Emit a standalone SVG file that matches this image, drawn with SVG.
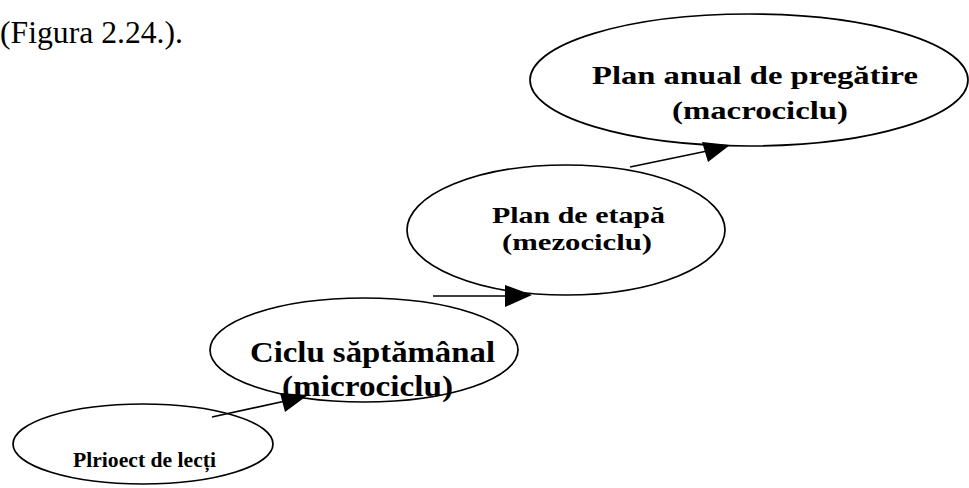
<svg xmlns="http://www.w3.org/2000/svg" width="969" height="488" viewBox="0 0 969 488">
  <style>
    .node ellipse { fill: #ffffff; stroke: #000000; stroke-width: 1.7; }
    .lbl { font-family: "Liberation Serif", "Times New Roman", serif; font-weight: bold; fill: #000000; }
    .edge { stroke: #000000; stroke-width: 1.7; fill: none; }
    .head { fill: #000000; stroke: none; }
    .caption { font-family: "Liberation Serif", "Times New Roman", serif; font-size: 31px; fill: #000000; }
  </style>
  <rect width="969" height="488" fill="#ffffff"/>

  <text class="caption" x="0" y="43" textLength="183" lengthAdjust="spacingAndGlyphs">(Figura 2.24.).</text>

  <g id="node-macrociclu" class="node">
    <ellipse cx="749" cy="80" rx="219" ry="66"/>
    <text class="lbl" x="592" y="84" font-size="26" textLength="326" lengthAdjust="spacingAndGlyphs">Plan anual de pregătire</text>
    <text class="lbl" x="672" y="119" font-size="26" textLength="176" lengthAdjust="spacingAndGlyphs">(macrociclu)</text>
  </g>

  <g id="node-mezociclu" class="node">
    <ellipse cx="566" cy="230" rx="159" ry="65"/>
    <text class="lbl" x="492" y="223" font-size="23.5" textLength="173" lengthAdjust="spacingAndGlyphs">Plan de etapă</text>
    <text class="lbl" x="502" y="250" font-size="23.5" textLength="150" lengthAdjust="spacingAndGlyphs">(mezociclu)</text>
  </g>

  <g id="node-microciclu" class="node">
    <ellipse cx="364" cy="350" rx="154" ry="52"/>
    <text class="lbl" x="250" y="362" font-size="29" textLength="245" lengthAdjust="spacingAndGlyphs">Ciclu săptămânal</text>
    <text class="lbl" x="282" y="396" font-size="29" textLength="171" lengthAdjust="spacingAndGlyphs">(microciclu)</text>
  </g>

  <g id="node-lectie" class="node">
    <ellipse cx="143" cy="444" rx="130" ry="40"/>
    <text class="lbl" x="73" y="467" font-size="20" textLength="143" lengthAdjust="spacingAndGlyphs">Plrioect de lecți</text>
  </g>

  <g id="connectors">
    <line class="edge" x1="212" y1="417" x2="290" y2="400"/>
    <polygon class="head" points="308,395 280,393 285,412"/>
    <line class="edge" x1="433" y1="296" x2="510" y2="296"/>
    <polygon class="head" points="532,295 505,285 505,307"/>
    <line class="edge" x1="630" y1="167" x2="712" y2="150"/>
    <polygon class="head" points="730,145 702,142 708,162"/>
  </g>
</svg>
